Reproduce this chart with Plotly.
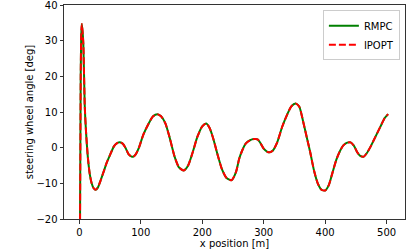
import plotly.graph_objects as go

x_pos = [0.3, 1.1, 2.2, 3.0, 3.9, 5, 6.5, 8.7, 11, 14, 17, 20, 23, 26.5, 30, 35, 40, 45, 50,
         56, 60, 65, 70, 75, 80, 85, 88, 92, 97, 104, 112, 120, 127, 133, 140, 147, 155,
         162, 170, 177, 185, 192, 200, 206.5, 212, 218, 225, 232, 240, 248, 255, 260, 265,
         271, 278, 284, 290, 295, 300, 306, 310, 315, 322, 330, 338, 345, 352, 358, 364,
         370, 376, 382, 388, 394, 400, 406, 412, 418, 424, 430, 436, 441.5, 447, 452, 457,
         463, 468, 474, 482, 490, 497, 502.5]
steer_rmpc = [-40, -20, 20, 31, 34.7, 33, 29, 12, 4, -3, -7.5, -10, -11.3, -11.8, -11.2, -9,
              -6.5, -4, -2, 0.3, 1.1, 1.5, 1.2, 0, -1.8, -2.5, -2.5, -1.8, 0, 3.6, 6.5, 8.8,
              9.4, 8.8, 6.8, 2.8, -2.5, -5.5, -6.4, -5, -1, 3, 6, 6.8, 5.5, 2.5, -2, -6, -8.6,
              -9.1, -6.8, -3.2, -0.8, 1.2, 2.1, 2.4, 2.3, 1.2, -0.3, -1.2, -1.3, -0.8, 1.5,
              5.8, 9.2, 11.6, 12.4, 11.5, 7.5, 3.0, -1.5, -6.5, -10, -11.8, -12, -10.5, -7,
              -3.5, -1, 0.7, 1.4, 1.5, 0.5, -1.2, -2.3, -2.5, -1.5, 0.3, 3.1, 5.9, 8.3, 9.4]
steer_ipopt = list(steer_rmpc)

x_ticks = [0, 100, 200, 300, 400, 500]
y_ticks = [-20, -10, 0, 10, 20, 30, 40]

fig = go.Figure()
fig.add_trace(go.Scatter(x=x_pos, y=steer_rmpc, mode="lines", name="RMPC",
                         line=dict(color="#008000", width=2, shape="spline", smoothing=0.6)))
fig.add_trace(go.Scatter(x=x_pos, y=steer_ipopt, mode="lines", name="IPOPT",
                         line=dict(color="#ff0000", width=2, dash="7px,3px", shape="spline", smoothing=0.6)))

axis_common = dict(showline=True, mirror=True, linecolor="#333333", linewidth=1,
                   ticks="outside", ticklen=3.5, tickwidth=1, tickcolor="#333333",
                   showgrid=False, zeroline=False, automargin=False,
                   ticklabeloverflow="allow",
                   tickfont=dict(family="DejaVu Sans", size=10, color="black"))

fig.update_layout(
    width=415, height=249,
    margin=dict(l=64, r=10, t=5, b=30),
    paper_bgcolor="white", plot_bgcolor="white",
    font=dict(family="DejaVu Sans", size=10, color="black"),
    showlegend=True,
    legend=dict(x=0.985, y=0.975, xanchor="right", yanchor="top",
                bgcolor="rgba(255,255,255,0.8)", bordercolor="#cccccc", borderwidth=1,
                font=dict(family="DejaVu Sans", size=10), itemwidth=30, tracegroupgap=0),
    xaxis=dict(range=[-25, 530], tickvals=x_ticks,
               title=dict(text="x position [m]", standoff=0, font=dict(size=10)), **axis_common),
    yaxis=dict(range=[-20, 40], tickvals=y_ticks,
               title=dict(text="steering wheel angle [deg]", standoff=0, font=dict(size=10)), **axis_common),
)

fig.write_html("out.html", config={"displayModeBar": False},
               post_script="document.body.style.margin='0';document.body.style.padding='0';")
